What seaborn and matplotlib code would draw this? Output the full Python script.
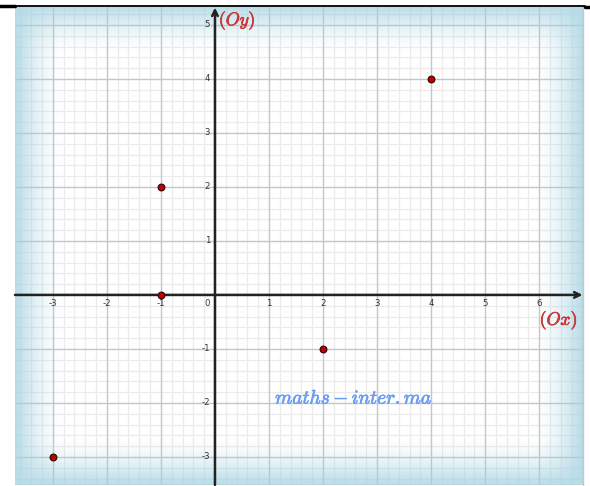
import numpy as np
import pandas as pd
import matplotlib
matplotlib.use('Agg')
import matplotlib.pyplot as plt
import matplotlib.patheffects as pe
import seaborn as sns
from matplotlib.lines import Line2D

# points of the exercise
x_vals = [-3, -1, -1, 2, 4]
y_vals = [-3, 0, 2, -1, 4]
x_ticks = [-3, -2, -1, 1, 2, 3, 4, 5, 6]
y_ticks = [-3, -2, -1, 1, 2, 3, 4, 5]

df = pd.DataFrame({'x': x_vals, 'y': y_vals})

sns.set_style('white')
plt.rcParams['font.family'] = ['DejaVu Sans']
plt.rcParams['mathtext.fontset'] = 'cm'

fig = plt.figure(figsize=(5.9, 4.86), dpi=100)
ax = fig.add_axes([15/590, 1/486, 568/590, 479/486])

xmin, xmax = -3.70, 6.81
ymin, ymax = -3.52, 5.35
ax.set_xlim(xmin, xmax)
ax.set_ylim(ymin, ymax)

# grid
for v in np.arange(-3.6, 6.81, 0.2):
    if abs(v - round(v)) > 1e-6:
        ax.axvline(v, color='#ebebeb', lw=0.9, zorder=1)
for v in np.arange(-3.4, 5.35, 0.2):
    if abs(v - round(v)) > 1e-6:
        ax.axhline(v, color='#ebebeb', lw=0.9, zorder=1)
for v in range(-3, 7):
    ax.axvline(v, color='#c6c6c6', lw=1.0, zorder=1.5)
for v in range(-3, 6):
    ax.axhline(v, color='#c6c6c6', lw=1.0, zorder=1.5)

# blue vignette on the borders, drawn over the grid
n = 500
u = np.linspace(0, 1, n)
W, H = 568.0, 479.0
px = np.minimum(u * W, (1 - u) * W)
py = np.minimum(u * H, (1 - u) * H)
fx = np.clip(1 - px / 48.0, 0, 1) ** 1.6
fy = np.clip(1 - py / 48.0, 0, 1) ** 1.6
FX, FY = np.meshgrid(fx, fy)
alpha = 1 - (1 - FX) * (1 - FY)
alpha = np.clip(alpha * 0.75, 0, 1)
img = np.zeros((n, n, 4))
img[..., 0] = 160 / 255
img[..., 1] = 208 / 255
img[..., 2] = 224 / 255
img[..., 3] = alpha
ax.imshow(img, extent=(0, 1, 0, 1), transform=ax.transAxes, aspect='auto',
          zorder=2, interpolation='bilinear')

# axes with arrows
ax.annotate('', xy=(xmax - 0.01, 0), xytext=(xmin, 0),
            arrowprops=dict(arrowstyle='->', color='#222222', lw=1.8,
                            shrinkA=0, shrinkB=0), zorder=3)
ax.annotate('', xy=(0, ymax - 0.03), xytext=(0, ymin),
            arrowprops=dict(arrowstyle='->', color='#222222', lw=1.8,
                            shrinkA=0, shrinkB=0), zorder=3)

sns.scatterplot(data=df, x='x', y='y', ax=ax, s=24, color='#c00000',
                edgecolor='#3a0000', linewidth=0.8, zorder=5, legend=False)

# tick labels
for t in x_ticks:
    ax.text(t, -0.08, str(t), ha='center', va='top', fontsize=6.2,
            color='#333333', zorder=4)
for t in y_ticks:
    ax.text(-0.09, t, str(t), ha='right', va='center', fontsize=6.2,
            color='#333333', zorder=4)
ax.text(-0.09, -0.08, '0', ha='right', va='top', fontsize=6.2,
        color='#333333', zorder=4)

red = '#c8383a'
bold_red = [pe.withStroke(linewidth=0.5, foreground=red)]
ax.text(0.07, 5.08, r'$(Oy)$', fontsize=13, color=red,
        ha='left', va='center', zorder=4, path_effects=bold_red)
ax.text(6.36, -0.47, r'$(Ox)$', fontsize=13, color=red,
        ha='center', va='center', zorder=4, path_effects=bold_red)
blue = '#6b9cf5'
ax.text(2.57, -1.91, r'$maths-inter.ma$', fontsize=14, color=blue,
        ha='center', va='center', zorder=4,
        path_effects=[pe.withStroke(linewidth=0.5, foreground=blue)])

ax.set_xticks([])
ax.set_yticks([])
ax.set_xlabel('')
ax.set_ylabel('')
for s in ['left', 'top', 'bottom']:
    ax.spines[s].set_visible(False)
ax.spines['right'].set_color('#c8c8c8')
ax.spines['right'].set_linewidth(1.0)

# page border line at top
fig.add_artist(Line2D([0, 585/590], [1 - 6/486, 1 - 6/486], color='black',
                      lw=1.3, transform=fig.transFigure))
fig.add_artist(Line2D([0, 15/590], [1 - 6/486, 1 - 6/486], color='black',
                      lw=2.5, transform=fig.transFigure))
fig.add_artist(Line2D([585/590, 1], [1 - 7/486, 1 - 7/486], color='black',
                      lw=2.5, transform=fig.transFigure))

fig.savefig('out.png', dpi=100)
